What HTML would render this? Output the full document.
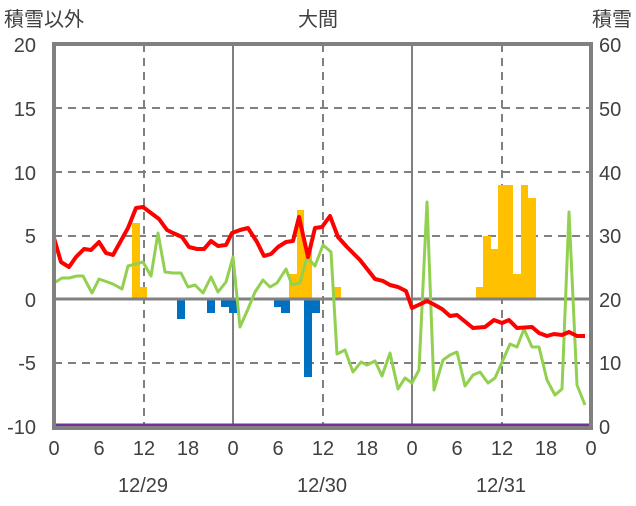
<!DOCTYPE html>
<html><head><meta charset="utf-8"><style>
body{margin:0;background:#fff}
svg text{font-family:"Liberation Sans","Noto Sans CJK JP",sans-serif;fill:#404040;font-size:20px}
</style></head><body>
<svg width="636" height="501" viewBox="0 0 636 501" xmlns="http://www.w3.org/2000/svg">
<g stroke="#808080" stroke-width="2" stroke-dasharray="8,6">
<line x1="54" y1="108" x2="591" y2="108"/>
<line x1="54" y1="172" x2="591" y2="172"/>
<line x1="54" y1="236" x2="591" y2="236"/>
<line x1="54" y1="363" x2="591" y2="363"/>
<line x1="144" y1="44" x2="144" y2="428"/>
<line x1="323" y1="44" x2="323" y2="428"/>
<line x1="502" y1="44" x2="502" y2="428"/>
</g>
<g stroke="#808080" stroke-width="2">
<line x1="233" y1="44" x2="233" y2="428"/>
<line x1="412" y1="44" x2="412" y2="428"/>
</g>
<g fill="#FFC000">
<rect x="132" y="223" width="8" height="76"/><rect x="140" y="287" width="7" height="12"/>
<rect x="289" y="274" width="8" height="25"/><rect x="297" y="210" width="7" height="89"/><rect x="304" y="250" width="8" height="49"/>
<rect x="333" y="287" width="8" height="12"/>
<rect x="476" y="287" width="7" height="12"/><rect x="483" y="236" width="8" height="63"/><rect x="491" y="249" width="7" height="50"/>
<rect x="498" y="185" width="15" height="114"/><rect x="513" y="274" width="8" height="25"/><rect x="521" y="185" width="7" height="114"/><rect x="528" y="198" width="8" height="101"/>
</g>
<g fill="#0070C0">
<rect x="177" y="299" width="8" height="20"/><rect x="207" y="299" width="8" height="14"/>
<rect x="221" y="299" width="8" height="8"/><rect x="229" y="299" width="8" height="14"/>
<rect x="274" y="299" width="7" height="8"/><rect x="281" y="299" width="9" height="14"/>
<rect x="304" y="299" width="8" height="78"/><rect x="312" y="299" width="8" height="14"/>
</g>
<line x1="54" y1="299" x2="591" y2="299" stroke="#808080" stroke-width="3"/>
<polyline fill="none" stroke="#92D050" stroke-width="3" stroke-linejoin="round" points="54,283 62,278 69,278 77,276 83,276 92,293 99,279 113,284 122,289 128,266 143,262 151,276 158,233 165,272 173,273 181,273 188,287 195,285 203,293 211,277 218,292 226,282 233,257 240,327 248,309 255,292 263,280 270,287 277,283 286,269 292,285 300,283 307,257 315,266 323,245 331,252 337,354 345,350 353,372 361,362 367,365 375,361 382,376 390,353 398,389 405,378 412,383 419,370 427,202 434,390 443,360 450,355 457,352 465,386 473,375 480,372 488,383 495,378 503,360 510,344 517,347 524,329 532,347 539,347 547,380 555,395 562,389 569,212 577,385 585,405"/>
<polyline fill="none" stroke="#FF0000" stroke-width="4" stroke-linejoin="round" points="54,238 61,262 69,267 76,257 84,249 91,250 99,242 106,253 113,255 128,228 136,208 143,207 151,213 159,219 167,230 173,233 182,237 189,247 197,249 204,249 211,241 218,246 226,245 232,233 240,230 248,228 257,242 264,256 271,254 278,247 286,242 293,241 299,217 308,257 315,228 322,227 330,216 338,237 347,247 360,260 375,279 383,281 390,285 398,287 406,291 412,308 427,301 433,304 442,309 450,316 457,315 473,328 485,327 494,320 502,323 509,320 517,328 532,327 539,333 547,336 554,334 562,335 569,332 577,336 585,336"/>
<line x1="56" y1="425" x2="589" y2="425" stroke="#7030A0" stroke-width="3"/>
<rect x="54" y="44" width="537" height="384" fill="none" stroke="#808080" stroke-width="4"/>
<g text-anchor="end">
<text x="36" y="52">20</text><text x="36" y="116">15</text><text x="36" y="180">10</text><text x="36" y="243">5</text><text x="36" y="307">0</text><text x="36" y="370">-5</text><text x="36" y="434">-10</text>
</g>
<g text-anchor="start">
<text x="599" y="52">60</text><text x="599" y="116">50</text><text x="599" y="180">40</text><text x="599" y="243">30</text><text x="599" y="307">20</text><text x="599" y="370">10</text><text x="599" y="434">0</text>
</g>
<g text-anchor="middle">
<text x="54" y="455">0</text><text x="99" y="455">6</text><text x="144" y="455">12</text><text x="188" y="455">18</text>
<text x="233" y="455">0</text><text x="278" y="455">6</text><text x="323" y="455">12</text><text x="367" y="455">18</text>
<text x="412" y="455">0</text><text x="457" y="455">6</text><text x="502" y="455">12</text><text x="546" y="455">18</text><text x="591" y="455">0</text>
<text x="143" y="492">12/29</text><text x="322" y="492">12/30</text><text x="501" y="492">12/31</text>
<text x="318" y="26">大間</text>
</g>
<text x="4" y="26">積雪以外</text>
<text x="632" y="26" text-anchor="end">積雪</text>
</svg>
</body></html>
